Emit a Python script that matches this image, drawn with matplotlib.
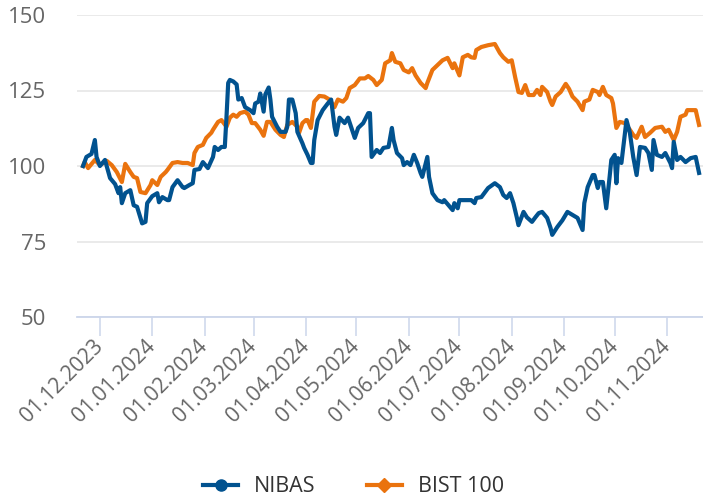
import matplotlib
matplotlib.use("Agg")
import matplotlib.pyplot as plt
from matplotlib.lines import Line2D
import pandas as pd

plt.rcParams['font.family'] = ['Open Sans', 'DejaVu Sans']

nibas_dates = [
    "2023-11-21", "2023-11-23", "2023-11-26", "2023-11-28", "2023-11-29", "2023-12-01",
    "2023-12-04", "2023-12-05", "2023-12-07", "2023-12-10", "2023-12-12", "2023-12-13",
    "2023-12-14", "2023-12-16", "2023-12-19", "2023-12-21", "2023-12-23", "2023-12-26",
    "2023-12-28", "2023-12-29", "2024-01-01", "2024-01-04", "2024-01-05", "2024-01-07",
    "2024-01-10", "2024-01-11", "2024-01-13", "2024-01-16", "2024-01-19", "2024-01-20",
    "2024-01-23", "2024-01-25", "2024-01-26", "2024-01-29", "2024-01-31", "2024-02-03",
    "2024-02-06", "2024-02-07", "2024-02-09", "2024-02-11", "2024-02-13", "2024-02-14",
    "2024-02-15", "2024-02-16", "2024-02-18", "2024-02-20", "2024-02-21", "2024-02-23",
    "2024-02-25", "2024-02-28", "2024-03-01", "2024-03-02", "2024-03-04", "2024-03-05",
    "2024-03-07", "2024-03-08", "2024-03-10", "2024-03-11", "2024-03-12", "2024-03-15",
    "2024-03-17", "2024-03-20", "2024-03-21", "2024-03-22", "2024-03-24", "2024-03-26",
    "2024-03-27", "2024-03-30", "2024-03-31", "2024-04-02", "2024-04-04", "2024-04-05",
    "2024-04-06", "2024-04-08", "2024-04-11", "2024-04-14", "2024-04-16", "2024-04-18",
    "2024-04-19", "2024-04-21", "2024-04-24", "2024-04-26", "2024-04-28", "2024-04-30",
    "2024-05-02", "2024-05-05", "2024-05-08", "2024-05-09", "2024-05-10", "2024-05-13",
    "2024-05-15", "2024-05-17", "2024-05-20", "2024-05-22", "2024-05-23", "2024-05-25",
    "2024-05-28", "2024-05-29", "2024-05-31", "2024-06-02", "2024-06-04", "2024-06-06",
    "2024-06-08", "2024-06-09", "2024-06-12", "2024-06-13", "2024-06-15", "2024-06-18",
    "2024-06-21", "2024-06-22", "2024-06-27", "2024-06-28", "2024-06-30", "2024-07-01",
    "2024-07-06", "2024-07-08", "2024-07-10", "2024-07-11", "2024-07-14", "2024-07-18",
    "2024-07-22", "2024-07-25", "2024-07-27", "2024-07-29", "2024-07-31", "2024-08-02",
    "2024-08-04", "2024-08-05", "2024-08-08", "2024-08-10", "2024-08-13", "2024-08-15",
    "2024-08-17", "2024-08-19", "2024-08-22", "2024-08-24", "2024-08-25", "2024-08-28",
    "2024-08-31", "2024-09-03", "2024-09-06", "2024-09-09", "2024-09-12", "2024-09-13",
    "2024-09-15", "2024-09-18", "2024-09-19", "2024-09-21", "2024-09-22", "2024-09-24",
    "2024-09-26", "2024-09-28", "2024-09-29", "2024-10-01", "2024-10-02", "2024-10-03",
    "2024-10-05", "2024-10-08", "2024-10-10", "2024-10-12", "2024-10-14", "2024-10-16",
    "2024-10-19", "2024-10-21", "2024-10-23", "2024-10-24", "2024-10-26", "2024-10-29",
    "2024-10-31", "2024-11-03", "2024-11-04", "2024-11-05", "2024-11-07", "2024-11-09",
    "2024-11-12", "2024-11-15", "2024-11-18", "2024-11-20",
]
nibas_values = [
    100.0, 103.0, 104.0, 108.6, 103.0, 100.0,
    102.0, 100.0, 96.0, 94.0, 91.0, 93.0,
    87.7, 91.0, 92.0, 87.0, 86.5, 81.0,
    81.5, 87.7, 90.0, 91.0, 88.0, 89.7,
    88.7, 88.7, 93.0, 95.3, 93.0, 92.7,
    93.7, 94.3, 98.7, 99.0, 101.3, 99.3,
    103.0, 106.3, 105.3, 106.3, 106.3, 116.3,
    127.5, 128.5, 128.0, 127.0, 122.0, 122.5,
    119.5, 118.5, 117.5, 120.7, 121.3, 124.0,
    118.0, 123.7, 126.0, 122.0, 116.3, 113.0,
    111.3, 111.3, 113.0, 122.0, 122.0, 117.5,
    111.3, 107.5, 106.0, 103.7, 101.0, 101.0,
    108.6, 115.2, 118.5, 120.7, 122.0, 113.0,
    110.3, 116.0, 114.2, 116.0, 112.6, 109.3,
    112.6, 114.2, 117.5, 117.5, 103.0, 105.3,
    104.3, 106.0, 106.3, 112.6, 108.6, 104.3,
    102.6, 100.3, 101.3, 100.3, 103.7, 101.0,
    97.7, 96.4, 103.0, 96.4, 91.0, 88.7,
    88.0, 88.7, 85.4, 87.7, 86.0, 88.7,
    88.7, 88.7, 87.7, 89.4, 89.7, 92.7,
    94.3, 93.0, 90.4, 89.4, 91.0, 87.7,
    83.0, 80.4, 84.8, 83.0, 81.5, 83.0,
    84.4, 84.8, 82.8, 79.5, 77.2, 79.8,
    82.0, 84.8, 83.8, 82.8, 78.8, 87.7,
    93.0, 97.0, 97.0, 92.7, 94.7, 94.7,
    86.0, 96.4, 102.0, 103.7, 94.3, 102.6,
    101.0, 115.2, 111.0, 103.0, 97.0, 106.3,
    106.0, 104.3, 98.7, 108.6, 103.7, 103.0,
    104.3, 101.0, 99.3, 108.0, 102.0, 103.0,
    101.3, 102.6, 103.0, 97.7,
]

bist_dates = [
    "2023-11-21", "2023-11-22", "2023-11-24", "2023-11-28", "2023-12-01", "2023-12-05",
    "2023-12-08", "2023-12-11", "2023-12-14", "2023-12-16", "2023-12-19", "2023-12-21",
    "2023-12-23", "2023-12-25", "2023-12-28", "2023-12-31", "2024-01-01", "2024-01-04",
    "2024-01-06", "2024-01-09", "2024-01-10", "2024-01-13", "2024-01-16", "2024-01-19",
    "2024-01-22", "2024-01-25", "2024-01-26", "2024-01-28", "2024-01-31", "2024-02-02",
    "2024-02-05", "2024-02-06", "2024-02-09", "2024-02-11", "2024-02-14", "2024-02-16",
    "2024-02-18", "2024-02-20", "2024-02-22", "2024-02-25", "2024-02-27", "2024-02-29",
    "2024-03-02", "2024-03-05", "2024-03-07", "2024-03-09", "2024-03-11", "2024-03-14",
    "2024-03-17", "2024-03-19", "2024-03-21", "2024-03-24", "2024-03-27", "2024-03-28",
    "2024-03-30", "2024-04-01", "2024-04-02", "2024-04-04", "2024-04-06", "2024-04-09",
    "2024-04-12", "2024-04-15", "2024-04-18", "2024-04-20", "2024-04-23", "2024-04-25",
    "2024-04-27", "2024-04-30", "2024-05-03", "2024-05-06", "2024-05-08", "2024-05-11",
    "2024-05-13", "2024-05-16", "2024-05-18", "2024-05-21", "2024-05-22", "2024-05-24",
    "2024-05-27", "2024-05-29", "2024-06-01", "2024-06-03", "2024-06-05", "2024-06-08",
    "2024-06-11", "2024-06-12", "2024-06-15", "2024-06-18", "2024-06-21", "2024-06-24",
    "2024-06-27", "2024-06-28", "2024-07-01", "2024-07-03", "2024-07-06", "2024-07-08",
    "2024-07-10", "2024-07-11", "2024-07-14", "2024-07-18", "2024-07-22", "2024-07-25",
    "2024-07-27", "2024-07-30", "2024-08-01", "2024-08-03", "2024-08-05", "2024-08-07",
    "2024-08-09", "2024-08-11", "2024-08-14", "2024-08-16", "2024-08-18", "2024-08-19",
    "2024-08-22", "2024-08-24", "2024-08-25", "2024-08-27", "2024-08-30", "2024-09-02",
    "2024-09-04", "2024-09-06", "2024-09-09", "2024-09-12", "2024-09-13", "2024-09-16",
    "2024-09-18", "2024-09-21", "2024-09-22", "2024-09-24", "2024-09-26", "2024-09-29",
    "2024-09-30", "2024-10-02", "2024-10-04", "2024-10-07", "2024-10-10", "2024-10-12",
    "2024-10-14", "2024-10-17", "2024-10-19", "2024-10-22", "2024-10-25", "2024-10-29",
    "2024-10-31", "2024-11-02", "2024-11-05", "2024-11-07", "2024-11-09", "2024-11-12",
    "2024-11-13", "2024-11-18", "2024-11-20",
]
bist_values = [
    100.0, 101.3, 99.3, 102.0, 100.3, 101.7,
    100.3, 98.0, 94.7, 100.7, 98.0, 96.4,
    96.0, 91.4, 91.0, 93.7, 95.3, 93.7,
    96.4, 98.0, 98.7, 101.0, 101.3, 101.0,
    101.0, 100.3, 104.3, 106.3, 107.0, 109.3,
    111.0, 112.0, 114.6, 115.2, 113.0, 116.0,
    117.0, 116.3, 117.5, 118.0, 117.0, 114.2,
    114.2, 112.0, 110.0, 114.6, 114.6, 112.0,
    110.3, 109.6, 113.6, 114.6, 113.0, 111.0,
    114.2, 115.2, 115.2, 112.6, 121.3, 123.2,
    123.0, 122.0, 119.5, 122.0, 121.3, 122.5,
    125.8, 126.8, 129.0, 129.0, 129.8, 128.5,
    126.8, 128.5, 134.0, 135.0, 137.4, 134.5,
    134.0, 131.8, 131.0, 132.4, 130.0, 127.5,
    125.8, 127.5, 131.8, 133.4, 135.0, 135.8,
    132.4, 134.0, 130.0, 136.0, 136.8, 136.0,
    135.8, 138.4, 139.4, 140.0, 140.4, 137.4,
    136.0, 134.5, 135.0, 129.5, 124.5, 124.2,
    126.8, 123.5, 123.5, 125.2, 123.5, 126.2,
    124.5, 121.3, 120.2, 123.0, 124.5, 127.2,
    125.5, 123.0, 121.3, 118.5, 121.3, 122.0,
    125.2, 124.5, 123.5, 126.2, 123.5, 122.5,
    120.7, 112.6, 114.6, 114.2, 112.0, 110.3,
    109.3, 113.0, 109.6, 111.0, 112.6, 113.0,
    111.3, 112.0, 108.6, 111.3, 116.3, 117.0,
    118.5, 118.5, 113.6,
]

month_ticks = ["2023-12-01", "2024-01-01", "2024-02-01", "2024-03-01", "2024-04-01",
               "2024-05-01", "2024-06-01", "2024-07-01", "2024-08-01", "2024-09-01",
               "2024-10-01", "2024-11-01"]
y_ticks = [50, 75, 100, 125, 150]
series_names = ["NIBAS", "BIST 100"]

BLUE = "#01528f"
ORANGE = "#ea730e"
GRID = "#e6e6e6"
AXIS = "#ccd6eb"
LABEL = "#666666"

fig = plt.figure(figsize=(7.03, 4.99), dpi=100)
ax = fig.add_axes([77 / 703, 1 - 317 / 499, 626 / 703, (317 - 15) / 499])

nd = pd.to_datetime(nibas_dates)
bd = pd.to_datetime(bist_dates)
ax.plot(bd, bist_values, color=ORANGE, lw=3.0, solid_joinstyle="round", zorder=3)
ax.plot(nd, nibas_values, color=BLUE, lw=3.0, solid_joinstyle="round", zorder=4)

ax.set_ylim(50, 150)
ax.set_yticks(y_ticks)
ax.set_xlim(pd.Timestamp("2023-11-17 10:00"), pd.Timestamp("2024-11-22 08:00"))
tick_pos = pd.to_datetime(month_ticks)
ax.set_xticks(tick_pos)
ax.set_xticklabels([t.strftime("%d.%m.%Y") for t in tick_pos])

ax.grid(axis="y", color=GRID, lw=1.2)
ax.set_axisbelow(True)
for s in ["left", "right", "top"]:
    ax.spines[s].set_visible(False)
ax.spines["bottom"].set_color(AXIS)
ax.spines["bottom"].set_linewidth(1.3)
ax.spines["bottom"].set_zorder(5)

ax.tick_params(axis="y", length=0, pad=22, labelsize=16, labelcolor=LABEL)
ax.tick_params(axis="x", length=13.5, width=1.1, color=AXIS, pad=5,
               labelsize=15.2, labelcolor=LABEL)
for lab in ax.get_xticklabels():
    lab.set_rotation(45)
    lab.set_ha("right")
    lab.set_va("center")
    lab.set_rotation_mode("anchor")

handles = [
    Line2D([], [], color=BLUE, lw=3.0, marker="o", markersize=8),
    Line2D([], [], color=ORANGE, lw=3.0, marker="D", markersize=7),
]
leg = fig.legend(handles, series_names, loc="center", bbox_to_anchor=(0.503, 1 - 487 / 499),
                 ncol=2, frameon=False, fontsize=15.5, handlelength=1.6,
                 columnspacing=2.4, handletextpad=0.75, labelcolor="#333333")

fig.savefig("out.png", dpi=100)
